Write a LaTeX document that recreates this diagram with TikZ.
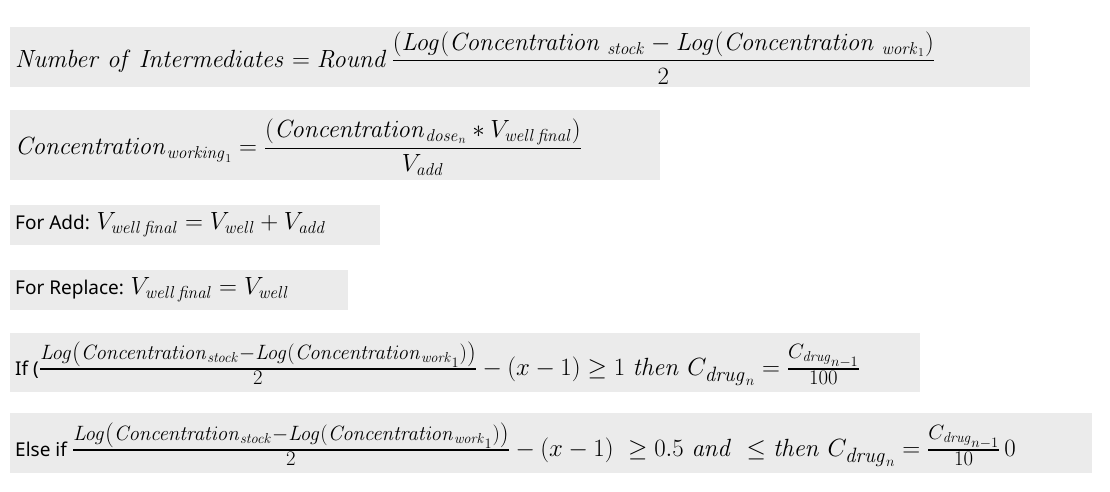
\documentclass[tikz,border=0pt]{standalone}
\usepackage{amsmath,amssymb}
\usepackage[no-math]{fontspec}
\setmainfont{Noto Sans}
\newcommand{\M}[1]{{\fontsize{26}{30}\selectfont$#1$}}
\newcommand{\MM}[1]{{\fontsize{28.5}{32}\selectfont$#1$}}
\begin{document}
\begin{tikzpicture}[x=1pt,y=-1pt,
  eq/.style={anchor=west,inner sep=0pt,font=\fontsize{19}{22}\selectfont}]
\useasboundingbox (0,0) rectangle (1110,492);
\fill[white] (0,0) rectangle (1110,492);
\fill[black!8] (10,27) rectangle (1030,87);
\fill[black!8] (10,110) rectangle (660,180);
\fill[black!8] (10,205) rectangle (380,245);
\fill[black!8] (10,270) rectangle (348,310);
\fill[black!8] (10,333) rectangle (920,392);
\fill[black!8] (10,413) rectangle (1092,473);
\node[eq] (e1) at (15,58) {\M{\mathit{Number\ of\ Intermediates} = \mathit{Round}\,\dfrac{(\mathit{Log}(\mathit{Concentration}_{\ \mathit{stock}} - \mathit{Log}(\mathit{Concentration}_{\ \mathit{work}_1})}{2}}};
\node[eq] (e2) at (15,147) {\M{\mathit{Concentration}_{\mathit{working}_1} = \dfrac{(\mathit{Concentration}_{\mathit{dose}_n} * V_{\mathit{well}\,\mathit{final}})}{V_{\mathit{add}}}}};
\node[eq] (e3) at (15,225) {For Add: \M{V_{\mathit{well}\,\mathit{final}} = V_{\mathit{well}} + V_{\mathit{add}}}};
\node[eq] (e4) at (15,290) {For Replace: \M{V_{\mathit{well}\,\mathit{final}} = V_{\mathit{well}}}};
\node[eq] (e5) at (15,364) {If (\MM{\frac{\mathit{Log}\left(\mathit{Concentration}_{\mathit{stock}}-\mathit{Log}(\mathit{Concentration}_{\mathit{work}_1})\right)}{2} - (x-1) \geq 1\ \mathit{then}\ C_{\mathit{drug}_n} = \frac{C_{\mathit{drug}_{n-1}}}{100}}};
\node[eq] (e6) at (15,445) {Else if \MM{\frac{\mathit{Log}\left(\mathit{Concentration}_{\mathit{stock}}-\mathit{Log}(\mathit{Concentration}_{\mathit{work}_1})\right)}{2} - (x-1)\ \geq 0.5\ \mathit{and}\ \leq \mathit{then}\ C_{\mathit{drug}_n} = \frac{C_{\mathit{drug}_{n-1}}}{10}\,0}};
\end{tikzpicture}
\end{document}
